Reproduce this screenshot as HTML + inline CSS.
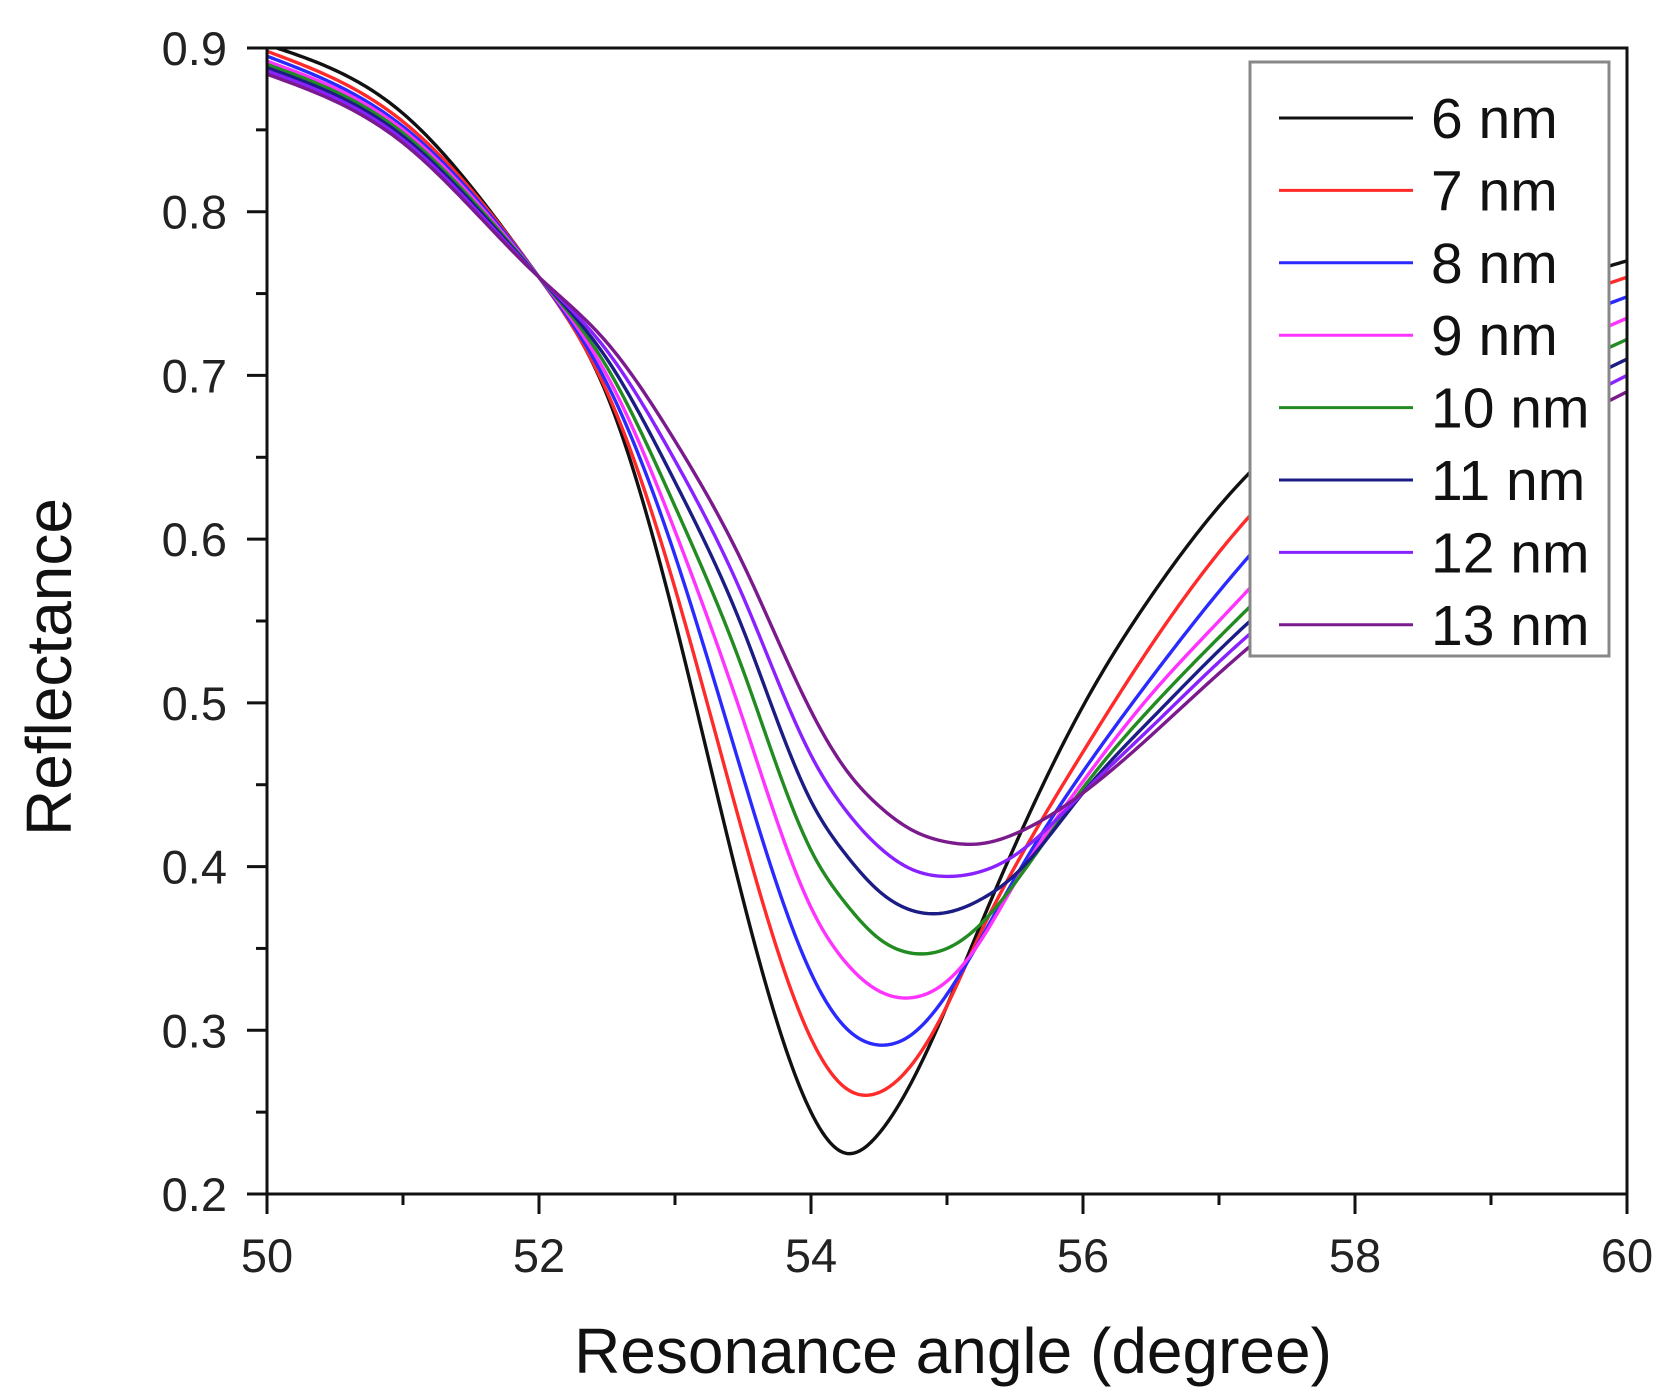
<!DOCTYPE html>
<html><head><meta charset="utf-8"><style>
html,body{margin:0;padding:0;background:#fff;}
svg{display:block;font-family:"Liberation Sans",Arial,sans-serif;}
</style></head><body>
<svg id="chart" width="1676" height="1398" viewBox="0 0 1676 1398" xmlns="http://www.w3.org/2000/svg">
<defs><clipPath id="plotclip"><rect x="267" y="48" width="1360" height="1146"/></clipPath></defs>
<g id="ticks"></g>
<g id="series" clip-path="url(#plotclip)"></g>
<rect x="267" y="48" width="1360" height="1146" fill="none" stroke="#111" stroke-width="3"/>
<g id="legend"></g>
<text x="953" y="1373" font-size="64" text-anchor="middle" fill="#111">Resonance angle (degree)</text>
<text x="0" y="0" font-size="64" text-anchor="middle" fill="#111" transform="translate(71,667) rotate(-90)">Reflectance</text>
</svg>
<script>
const xs = [50,51,52,52.5,53,53.5,54,54.25,54.5,54.75,55,55.25,55.5,56,56.5,57,58,59,60];
const seriesNames = ["6 nm","7 nm","8 nm","9 nm","10 nm","11 nm","12 nm","13 nm"];
const s6  = [0.902,0.86,0.76,0.688,0.55,0.38,0.25,0.225,0.237,0.27,0.315,0.365,0.413,0.498,0.565,0.62,0.695,0.742,0.77];
const s7  = [0.898,0.855,0.76,0.69,0.57,0.42,0.295,0.265,0.262,0.28,0.315,0.36,0.40,0.47,0.535,0.592,0.675,0.728,0.76];
const s8  = [0.895,0.852,0.76,0.695,0.59,0.455,0.335,0.302,0.291,0.298,0.322,0.356,0.393,0.458,0.515,0.568,0.655,0.713,0.748];
const s9  = [0.892,0.85,0.76,0.70,0.605,0.49,0.375,0.342,0.324,0.32,0.33,0.355,0.39,0.452,0.505,0.55,0.635,0.695,0.735];
const s10 = [0.89,0.848,0.76,0.705,0.62,0.52,0.41,0.378,0.356,0.347,0.35,0.365,0.39,0.448,0.497,0.54,0.618,0.68,0.722];
const s11 = [0.888,0.846,0.76,0.71,0.635,0.545,0.44,0.408,0.385,0.373,0.372,0.38,0.395,0.445,0.49,0.532,0.605,0.666,0.71];
const s12 = [0.886,0.844,0.76,0.715,0.648,0.565,0.468,0.435,0.412,0.398,0.394,0.397,0.407,0.445,0.485,0.525,0.595,0.655,0.70];
const s13 = [0.884,0.842,0.76,0.72,0.66,0.585,0.495,0.46,0.437,0.422,0.415,0.414,0.42,0.445,0.48,0.518,0.586,0.645,0.69];
const xTickLabels = ["50","52","54","56","58","60"];
const yTickLabels = ["0.2","0.3","0.4","0.5","0.6","0.7","0.8","0.9"];

const colors = ["#111111","#ff2a2a","#2a2aff","#ff33ff","#228b22","#1c1c85","#8a22ff","#7a1a8c"];
const allSeries = [s6,s7,s8,s9,s10,s11,s12,s13];
const X0=267,X1=1627,Y0=1194,Y1=48;
function sx(v){return X0+(v-50)/10*(X1-X0);}
function sy(v){return Y0-(v-0.2)/0.7*(Y0-Y1);}
const NS="http://www.w3.org/2000/svg";
function mk(tag,attrs,parent){const e=document.createElementNS(NS,tag);for(const k in attrs)e.setAttribute(k,attrs[k]);parent.appendChild(e);return e;}

const ticks=document.getElementById('ticks');
for(let v=50;v<=60.001;v+=1){
  const major=Math.round(v)%2===0;
  const t=mk('line',{x1:sx(v),x2:sx(v),y1:Y0,y2:Y0+(major?20:11),stroke:'#111','stroke-width':3},ticks);
  
  
}
xTickLabels.forEach(l=>{
  const t=mk('text',{x:sx(parseFloat(l)),y:1272,'font-size':47,'text-anchor':'middle',fill:'#222'},ticks);
  t.textContent=l;
  
  
});
for(let i=0;i<=14;i++){
  const v=0.2+i*0.05;const major=i%2===0;
  const t=mk('line',{x1:X0,x2:X0-(major?20:11),y1:sy(v),y2:sy(v),stroke:'#111','stroke-width':3},ticks);
  
  
}
yTickLabels.forEach(l=>{
  const t=mk('text',{x:227,y:sy(parseFloat(l))+17,'font-size':47,'text-anchor':'end',fill:'#222'},ticks);
  t.textContent=l;
  
  
});

// natural cubic spline through data points (x-aware), sampled densely
function spline(x,y){
  const n=x.length,h=[],al=[],l=[1],mu=[0],z=[0],c=new Array(n).fill(0),b=[],d=[];
  for(let i=0;i<n-1;i++)h.push(x[i+1]-x[i]);
  for(let i=1;i<n-1;i++)al[i]=3/h[i]*(y[i+1]-y[i])-3/h[i-1]*(y[i]-y[i-1]);
  for(let i=1;i<n-1;i++){l[i]=2*(x[i+1]-x[i-1])-h[i-1]*mu[i-1];mu[i]=h[i]/l[i];z[i]=(al[i]-h[i-1]*z[i-1])/l[i];}
  for(let j=n-2;j>=0;j--){c[j]=(j===n-2?0:z[j+1]!==undefined?0:0);}
  c[n-1]=0;
  for(let j=n-2;j>=1;j--){c[j]=z[j]-mu[j]*c[j+1];}
  c[0]=0;
  for(let j=0;j<n-1;j++){b[j]=(y[j+1]-y[j])/h[j]-h[j]*(c[j+1]+2*c[j])/3;d[j]=(c[j+1]-c[j])/(3*h[j]);}
  return function(t){let j=0;while(j<n-2&&t>x[j+1])j++;const dx=t-x[j];return y[j]+b[j]*dx+c[j]*dx*dx+d[j]*dx*dx*dx;};
}
function pathFor(vals){
  const f=spline(xs,vals);let d='';
  for(let i=0;i<=500;i++){const t=50+i*10/500;d+=(i?'L':'M')+sx(t).toFixed(2)+','+sy(f(t)).toFixed(2);}
  return d;
}
const sg=document.getElementById('series');
allSeries.forEach((vals,k)=>{
  const e=mk('path',{d:pathFor(vals),fill:'none',stroke:colors[k],'stroke-width':3.4,'stroke-linejoin':'round'},sg);
  
  
});

const lg=document.getElementById('legend');
const box=mk('rect',{x:1250,y:62,width:359,height:594,fill:'#fff',stroke:'#888','stroke-width':3},lg);


seriesNames.forEach((n,k)=>{
  const cy=118+k*72.4;
  const l=mk('line',{x1:1279,x2:1413,y1:cy,y2:cy,stroke:colors[k],'stroke-width':3},lg);
  
  
  const t=mk('text',{x:1431,y:cy+20,'font-size':57,fill:'#111'},lg);
  t.textContent=n;
  
  
});
</script>
</body></html>
